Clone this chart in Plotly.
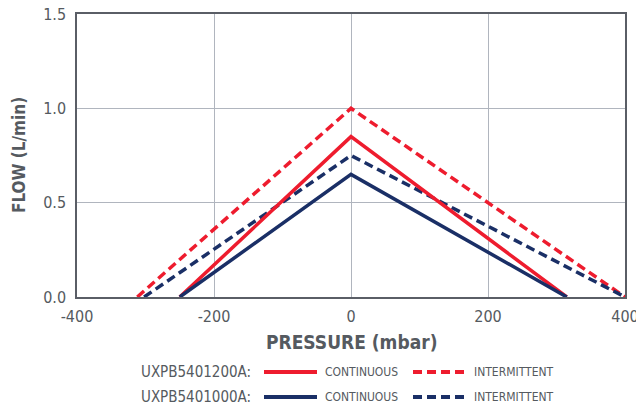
import plotly.graph_objects as go

# Data
pressure_1200_cont = [-250, 0, 315]
flow_1200_cont = [0.0, 0.85, 0.0]
pressure_1200_int = [-312, 0, 400]
flow_1200_int = [0.0, 1.0, 0.0]
pressure_1000_cont = [-250, 0, 315]
flow_1000_cont = [0.0, 0.65, 0.0]
pressure_1000_int = [-302, 0, 400]
flow_1000_int = [0.0, 0.75, 0.0]

x_ticks = [-400, -200, 0, 200, 400]
y_ticks = [0.0, 0.5, 1.0, 1.5]
models = ["UXPB5401200A:", "UXPB5401000A:"]
modes = ["CONTINUOUS", "INTERMITTENT"]

RED = "#EE1C2E"
NAVY = "#1A2F66"
FONT = "DejaVu Sans Condensed, Liberation Sans Narrow, sans-serif"
TXT = "#555A60"
DASH = "9px,5px"

fig = go.Figure()
fig.add_trace(go.Scatter(x=pressure_1200_int, y=flow_1200_int, mode="lines",
                         line=dict(color=RED, width=3.5, dash=DASH), showlegend=False))
fig.add_trace(go.Scatter(x=pressure_1000_int, y=flow_1000_int, mode="lines",
                         line=dict(color=NAVY, width=3.5, dash=DASH), showlegend=False))
fig.add_trace(go.Scatter(x=pressure_1200_cont, y=flow_1200_cont, mode="lines",
                         line=dict(color=RED, width=3.5), showlegend=False))
fig.add_trace(go.Scatter(x=pressure_1000_cont, y=flow_1000_cont, mode="lines",
                         line=dict(color=NAVY, width=3.5), showlegend=False))

L, R, T, B = 77, 11, 14, 109
W, H = 636, 406
PW, PH = W - L - R, H - T - B

def px(x):
    return (x - L) / PW

def py(y):
    return (H - B - y) / PH

shapes = []
annotations = []
rows = [(372, RED), (397, NAVY)]
for (yy, col), name in zip(rows, models):
    annotations.append(dict(x=px(253), y=py(yy), xref="paper", yref="paper",
                            text=name, showarrow=False, xanchor="right", yanchor="middle",
                            font=dict(family=FONT, size=15, color=TXT)))
    shapes.append(dict(type="line", xref="paper", yref="paper",
                       x0=px(264), x1=px(317), y0=py(yy), y1=py(yy),
                       line=dict(color=col, width=4)))
    annotations.append(dict(x=px(323), y=py(yy), xref="paper", yref="paper",
                            text=modes[0], showarrow=False, xanchor="left", yanchor="middle",
                            font=dict(family=FONT, size=12, color=TXT)))
    shapes.append(dict(type="line", xref="paper", yref="paper",
                       x0=px(413), x1=px(466), y0=py(yy), y1=py(yy),
                       line=dict(color=col, width=4, dash=DASH)))
    annotations.append(dict(x=px(472), y=py(yy), xref="paper", yref="paper",
                            text=modes[1], showarrow=False, xanchor="left", yanchor="middle",
                            font=dict(family=FONT, size=12, color=TXT)))

annotations.append(dict(x=0.5, y=py(342), xref="paper", yref="paper",
                        text="<b>PRESSURE (mbar)</b>", showarrow=False,
                        xanchor="center", yanchor="middle",
                        font=dict(family=FONT, size=19, color=TXT)))
annotations.append(dict(x=px(19), y=py(155), xref="paper", yref="paper",
                        text="<b>FLOW (L/min)</b>", showarrow=False, textangle=-90,
                        xanchor="center", yanchor="middle",
                        font=dict(family=FONT, size=17, color=TXT)))

fig.update_layout(
    width=W, height=H,
    margin=dict(l=L, r=R, t=T, b=B, autoexpand=False),
    paper_bgcolor="white", plot_bgcolor="white",
    font=dict(family=FONT, color=TXT),
    shapes=shapes, annotations=annotations,
    hovermode=False,
    xaxis=dict(range=[-400, 400], tickvals=x_ticks, ticktext=[str(v) for v in x_ticks],
               showgrid=True, gridcolor="#B0B5BE", gridwidth=1, zeroline=False,
               showline=True, linecolor="#5A5E66", linewidth=1.5, mirror=True,
               ticks="", automargin=False, ticklabeloverflow="allow",
               ticklabelstandoff=4,
               tickfont=dict(family=FONT, size=16, color=TXT)),
    yaxis=dict(range=[0, 1.5], tickvals=y_ticks, ticktext=["%.1f" % v for v in y_ticks],
               showgrid=True, gridcolor="#B0B5BE", gridwidth=1, zeroline=False,
               showline=True, linecolor="#5A5E66", linewidth=1.5, mirror=True,
               ticks="", automargin=False, ticklabelstandoff=6,
               tickfont=dict(family=FONT, size=16, color=TXT)),
)

fig.write_html("out.html", config={"displayModeBar": False},
               post_script="document.body.style.margin='0';document.body.style.overflow='hidden';")
